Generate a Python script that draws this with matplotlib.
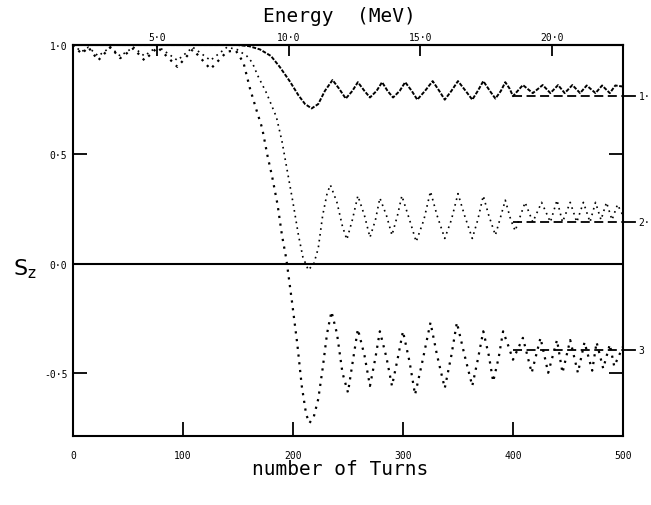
import numpy as np
import matplotlib
matplotlib.use('Agg')
import matplotlib.pyplot as plt

# energy scale on the top axis: E = E0 + dE * turns
E0 = 1.8
dE = 0.0418

# curve 1 (upper, near-solid)
n1 = [0, 150, 160, 170, 180, 188, 197, 205, 211, 217, 223, 229, 236, 242, 248, 254,
      259, 265, 270, 276, 281, 286, 291, 297, 302, 308, 313, 320, 327, 333, 338, 344,
      350, 357, 363, 368, 373, 379, 384, 389, 393, 397, 400, 409, 418, 427, 434, 441,
      447, 454, 461, 467, 475, 481, 488, 493, 500]
s1 = [1.0, 1.0, 0.995, 0.98, 0.95, 0.90, 0.835, 0.77, 0.73, 0.71, 0.73, 0.79, 0.84, 0.80, 0.755, 0.79,
      0.83, 0.79, 0.76, 0.79, 0.83, 0.79, 0.76, 0.79, 0.83, 0.79, 0.75, 0.79, 0.835, 0.79, 0.75, 0.79,
      0.835, 0.79, 0.75, 0.79, 0.835, 0.79, 0.755, 0.79, 0.83, 0.80, 0.766, 0.817, 0.78, 0.817, 0.78, 0.817,
      0.78, 0.817, 0.78, 0.815, 0.78, 0.815, 0.78, 0.815, 0.81]

# curve 2 (middle, dotted)
n2 = [0, 8, 14, 23, 34, 43, 55, 65, 77, 95, 109, 125, 140, 149, 158, 163, 168, 176,
      185, 190, 195, 200, 205, 209, 214, 219, 223, 227, 231, 234, 240, 245, 249, 254,
      259, 265, 270, 275, 279, 285, 290, 295, 299, 306, 312, 319, 325, 331, 338, 344,
      350, 356, 363, 368, 373, 378, 384, 388, 393, 398, 402, 411, 418, 426, 434, 440,
      445, 452, 458, 464, 470, 475, 480, 485, 490, 495, 500]
s2 = [1.0, 0.97, 0.99, 0.95, 0.99, 0.95, 0.99, 0.95, 0.995, 0.93, 0.99, 0.93, 0.99, 0.98, 0.95, 0.92, 0.86, 0.78,
      0.67, 0.56, 0.42, 0.28, 0.13, 0.03, -0.03, 0.0, 0.07, 0.22, 0.32, 0.36, 0.28, 0.17, 0.11, 0.20,
      0.31, 0.22, 0.12, 0.20, 0.30, 0.22, 0.13, 0.22, 0.31, 0.20, 0.10, 0.20, 0.33, 0.22, 0.115, 0.20,
      0.32, 0.22, 0.115, 0.20, 0.31, 0.22, 0.13, 0.20, 0.29, 0.20, 0.15, 0.28, 0.19, 0.28, 0.19, 0.29,
      0.19, 0.28, 0.19, 0.28, 0.19, 0.28, 0.20, 0.28, 0.20, 0.27, 0.22]

# curve 3 (lower, dotted)
n3 = [0, 8, 14, 23, 34, 43, 55, 65, 77, 95, 109, 125, 140, 148, 155, 161, 167, 172,
      177, 181, 186, 190, 194, 199, 204, 208, 212, 215, 219, 223, 227, 231, 235, 240,
      245, 250, 254, 259, 265, 270, 275, 279, 285, 290, 295, 300, 306, 311, 318, 325,
      331, 338, 344, 349, 356, 363, 368, 373, 378, 382, 387, 391, 396, 400, 409, 417,
      425, 432, 440, 445, 452, 459, 465, 472, 476, 482, 488, 492, 500]
s3 = [1.0, 0.96, 0.99, 0.93, 0.99, 0.94, 0.985, 0.93, 0.99, 0.90, 0.98, 0.89, 0.97, 0.975, 0.92, 0.80, 0.70, 0.62,
      0.49, 0.40, 0.27, 0.13, 0.02, -0.17, -0.37, -0.56, -0.69, -0.73, -0.70, -0.62, -0.48, -0.32, -0.22, -0.32,
      -0.50, -0.59, -0.46, -0.30, -0.42, -0.56, -0.43, -0.31, -0.43, -0.56, -0.44, -0.31, -0.45, -0.60, -0.44, -0.27,
      -0.42, -0.57, -0.42, -0.27, -0.42, -0.56, -0.44, -0.31, -0.42, -0.54, -0.43, -0.31, -0.38, -0.44, -0.34, -0.50,
      -0.34, -0.50, -0.35, -0.50, -0.35, -0.50, -0.36, -0.49, -0.36, -0.48, -0.37, -0.47, -0.38]

# asymptotic levels (dashed) and their labels
levels = [0.766, 0.19, -0.394]
level_labels = ['1·', '2·', '3']

xticks = [0, 100, 200, 300, 400, 500]
xticklabels = ['0', '100', '200', '300', '400', '500']
yticks = [1.0, 0.5, 0.0, -0.5]
yticklabels = ['1·0', '0·5', '0·0', '-0·5']
eticks = [5, 10, 15, 20]
eticklabels = ['5·0', '10·0', '15·0', '20·0']

mono = 'DejaVu Sans Mono'

fig = plt.figure(figsize=(6.51, 5.06), dpi=100)
ax = fig.add_axes([0.112, 0.136, 0.845, 0.773])

ax.plot(n1, s1, color='black', lw=1.4, ls=(0, (2, 0.8)))
ax.plot(n2, s2, color='black', lw=1.2, ls=(0, (1, 2.5)))
ax.plot(n3, s3, color='black', lw=1.6, ls=(0, (1, 2.5)))

ax.axhline(0.0, color='black', lw=1.5)

for lev, lab in zip(levels, level_labels):
    ax.plot([400, 500], [lev, lev], color='black', lw=1.3, ls=(0, (5, 2.5)))
    ax.plot([500, 511], [lev, lev], color='black', lw=1.3, clip_on=False)
    ax.text(514, lev, lab, fontsize=7, family=mono, va='center', ha='left')

ax.set_xlim(0, 500)
ax.set_ylim(-0.79, 1.0)

ax.set_xticks(xticks)
ax.set_xticklabels(xticklabels, fontsize=7, family=mono)
ax.set_yticks(yticks)
ax.set_yticklabels(yticklabels, fontsize=7, family=mono)
ax.tick_params(axis='both', direction='in', length=10, width=1.3, pad=6)
ax.tick_params(axis='y', right=True, labelright=False, pad=4)
ax.tick_params(axis='x', pad=10)

for sp in ax.spines.values():
    sp.set_linewidth(1.5)

top = ax.secondary_xaxis('top', functions=(lambda n: E0 + dE * n, lambda e: (e - E0) / dE))
top.set_xticks(eticks)
top.set_xticklabels(eticklabels, fontsize=7, family=mono)
top.tick_params(direction='in', length=8, width=1.3, pad=2)
top.spines['top'].set_linewidth(1.5)

fig.text(0.522, 0.968, 'Energy  (MeV)', fontsize=14, family=mono, ha='center', va='center')
fig.text(0.522, 0.072, 'number of Turns', fontsize=14, family=mono, ha='center', va='center')
ax.text(-0.088, 0.43, r'S$_\mathregular{z}$', transform=ax.transAxes, fontsize=16,
        family='DejaVu Sans', ha='center', va='center')

fig.savefig('out.png', dpi=100)
